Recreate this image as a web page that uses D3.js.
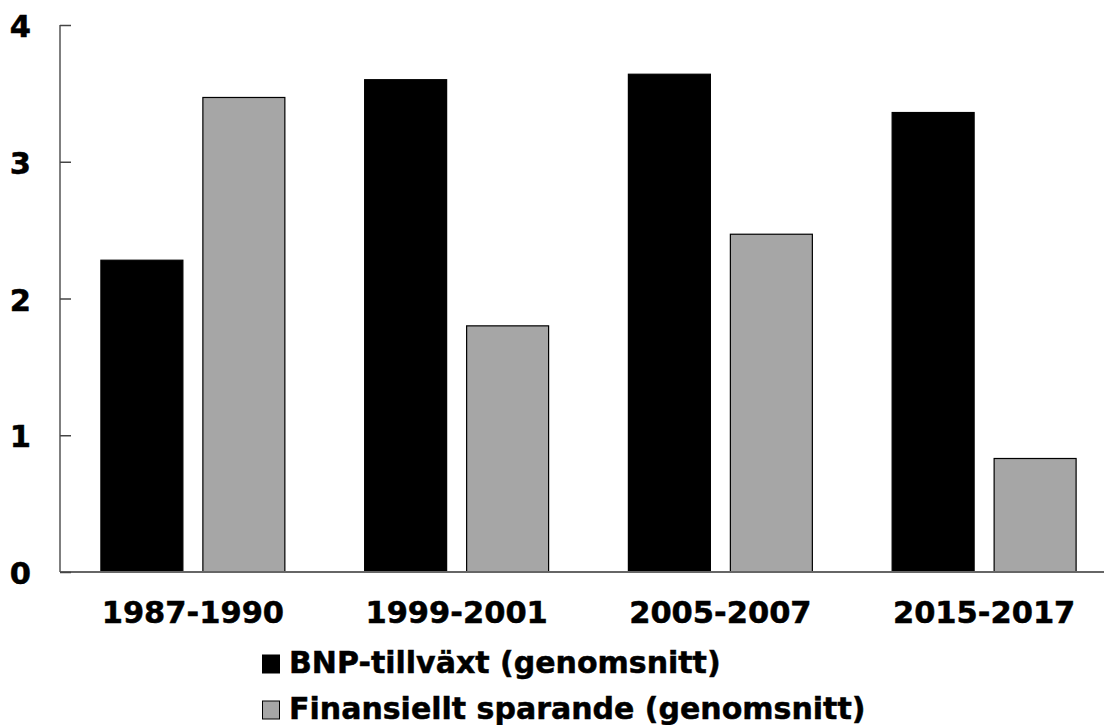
<!DOCTYPE html>
<html>
<head>
<meta charset="utf-8">
<script src="https://cdn.jsdelivr.net/npm/d3@7"></script>
<style>
  html, body { margin: 0; padding: 0; background: #fff; }
  svg { display: block; }
  text { font-family: "DejaVu Sans", Verdana, sans-serif; font-weight: bold; fill: #000; stroke: #000; stroke-width: 0.5px; }
</style>
</head>
<body>
<svg id="chart" width="1104" height="725"></svg>
<script>
const categories = ["1987-1990", "1999-2001", "2005-2007", "2015-2017"];
const seriesNames = ["BNP-tillväxt (genomsnitt)", "Finansiellt sparande (genomsnitt)"];
const bnpValues = [2.28, 3.60, 3.64, 3.36];
const sparandeValues = [3.47, 1.80, 2.47, 0.83];
const yTicks = [0, 1, 2, 3, 4];
const seriesColors = ["#000000", "#a6a6a6"];

const svg = d3.select("#chart");
const y = d3.scaleLinear().domain([0, 4]).range([572, 25]);
const x0 = d3.scaleBand().domain(categories).range([61, 1116])
  .paddingInner(0.3025).paddingOuter(0.15125);
const x1 = d3.scaleBand().domain(seriesNames).range([0, x0.bandwidth()])
  .paddingInner(20 / 102).paddingOuter(0);

const data = categories.map((c, i) => ({
  cat: c,
  vals: [
    { s: seriesNames[0], v: bnpValues[i], color: seriesColors[0] },
    { s: seriesNames[1], v: sparandeValues[i], color: seriesColors[1] }
  ]
}));

// bars
const g = svg.append("g").selectAll("g").data(data).join("g")
  .attr("transform", d => `translate(${x0(d.cat)},0)`);
g.selectAll("rect").data(d => d.vals).join("rect")
  .attr("x", d => x1(d.s))
  .attr("y", d => y(d.v))
  .attr("width", x1.bandwidth())
  .attr("height", d => y(0) - y(d.v))
  .attr("fill", d => d.color)
  .attr("stroke", "#000")
  .attr("stroke-width", 1.2);

// x axis line
svg.append("line")
  .attr("x1", 60).attr("x2", 1104)
  .attr("y1", y(0)).attr("y2", y(0))
  .attr("stroke", "#666").attr("stroke-width", 2);

// y axis
const yAxis = d3.axisRight(y).tickValues(yTicks).tickSize(11).tickFormat("");
const ya = svg.append("g").attr("transform", "translate(60,0)").call(yAxis);
ya.select(".domain").attr("stroke", "#555").attr("stroke-width", 1.5).attr("d", `M0,${y(4)}V${y(0)}`);
ya.selectAll(".tick line").attr("stroke", "#444").attr("stroke-width", 1.5);

// y tick labels
svg.append("g").selectAll("text").data(yTicks).join("text")
  .attr("x", 31)
  .attr("y", d => y(d) + 12)
  .attr("text-anchor", "end")
  .attr("font-size", 30.5)
  .text(d => d);

// x labels
svg.append("g").selectAll("text").data(categories).join("text")
  .attr("x", d => x0(d) + x0.bandwidth() / 2)
  .attr("y", 623)
  .attr("text-anchor", "middle")
  .attr("font-size", 30.5)
  .text(d => d);

// legend
const leg = svg.append("g").selectAll("g").data(seriesNames).join("g")
  .attr("transform", (d, i) => `translate(262,${655 + i * 46})`);
leg.append("rect")
  .attr("x", 0.5).attr("y", 0).attr("width", 17).attr("height", 18)
  .attr("fill", (d, i) => seriesColors[i])
  .attr("stroke", "#000").attr("stroke-width", 1);
leg.append("text")
  .attr("x", 27).attr("y", 18)
  .attr("font-size", 30)
  .text(d => d);
</script>
</body>
</html>
